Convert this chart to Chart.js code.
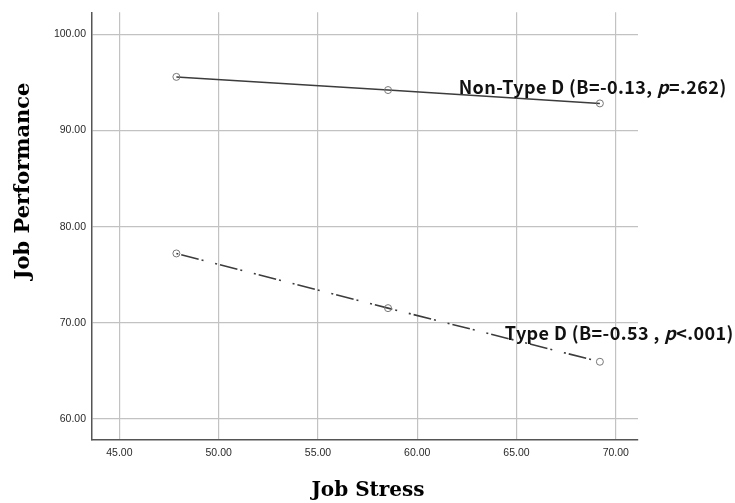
<!DOCTYPE html>
<html>
<head>
<meta charset="utf-8">
<script src="https://cdn.jsdelivr.net/npm/chart.js@4.4.1/dist/chart.umd.min.js"></script>
<style>
html, body { margin: 0; padding: 0; background: #fff; }
</style>
</head>
<body>
<canvas id="chart" width="735" height="503"></canvas>
<script>
// values (predicted job performance at 3 stress levels)
var stress = [47.87, 58.53, 69.2];
var nonTypeD = [95.58, 94.21, 92.82];
var typeD = [77.21, 71.52, 65.94];
var xTicks = [45, 50, 55, 60, 65, 70];
var yTicks = [60, 70, 80, 90, 100];
var seriesNames = ['Non-Type D', 'Type D'];
var notes = [
    ['Non-Type D (B=-0.13, ', 'p', '=.262)'],
    ['Type D (B=-0.53 , ', 'p', '<.001)']
];
var xTitle = 'Job Stress';
var yTitle = 'Job Performance';

function toPoints(xs, ys) {
    var pts = [];
    for (var i = 0; i < xs.length; i++) {
        pts.push({ x: xs[i], y: ys[i] });
    }
    return pts;
}

// where the notes sit, in data units
var notePos = [[62.09, 94.55], [64.41, 68.9]];

var notesPlugin = {
    id: 'notes',
    afterDraw: function (chart) {
        var ctx = chart.ctx;
        var xs = chart.scales.x, ys = chart.scales.y;
        ctx.save();
        ctx.fillStyle = '#111';
        ctx.textBaseline = 'middle';
        ctx.textAlign = 'left';
        ctx.letterSpacing = '0.4px';
        for (var i = 0; i < notes.length; i++) {
            var px = xs.getPixelForValue(notePos[i][0]);
            var py = ys.getPixelForValue(notePos[i][1]);
            for (var j = 0; j < notes[i].length; j++) {
                ctx.font = (j == 1 ? 'italic ' : '') + 'bold 18px "Noto Sans CJK KR"';
                ctx.fillText(notes[i][j], px, py);
                px += ctx.measureText(notes[i][j]).width;
            }
        }
        ctx.letterSpacing = '0px';

        // axis titles
        ctx.font = 'bold 20px "DejaVu Serif"';
        ctx.fillStyle = '#000';
        ctx.textAlign = 'center';
        ctx.fillText(xTitle, 368, 491);
        ctx.translate(24, 181);
        ctx.rotate(-Math.PI / 2);
        ctx.font = 'bold 21px "DejaVu Serif"';
        ctx.fillText(yTitle, 0, 0);
        ctx.restore();
    }
};

var tickFont = { family: '"Liberation Sans", Arial', size: 10.5 };

new Chart(document.getElementById('chart'), {
    type: 'scatter',
    data: {
        datasets: [{
            label: seriesNames[0],
            data: toPoints(stress, nonTypeD),
            showLine: true,
            borderColor: '#3c3c3c',
            borderWidth: 1.5,
            pointRadius: 3.5,
            pointBorderWidth: 1,
            pointBorderColor: '#777',
            pointBackgroundColor: 'rgba(255,255,255,0)'
        }, {
            label: seriesNames[1],
            data: toPoints(stress, typeD),
            showLine: true,
            borderColor: '#3c3c3c',
            borderWidth: 1.6,
            borderDash: [2, 3, 18, 3, 2, 12],
            pointRadius: 3.5,
            pointBorderWidth: 1,
            pointBorderColor: '#777',
            pointBackgroundColor: 'rgba(255,255,255,0)'
        }]
    },
    options: {
        responsive: false,
        animation: false,
        devicePixelRatio: 1,
        layout: { padding: { top: 10, right: 97, left: 0, bottom: 0 } },
        plugins: {
            legend: { display: false },
            tooltip: { enabled: false }
        },
        scales: {
            x: {
                type: 'linear',
                min: 43.62,
                max: 71.12,
                afterBuildTicks: function (s) {
                    s.ticks = xTicks.map(function (v) { return { value: v }; });
                },
                afterFit: function (s) { s.height = 63; },
                grid: { color: '#c2c2c2', lineWidth: 1.2, drawTicks: false },
                border: { color: '#555', width: 1.5 },
                ticks: {
                    font: tickFont,
                    color: '#2a2a2a',
                    padding: 7,
                    maxRotation: 0,
                    callback: function (v) { return Number(v).toFixed(2); }
                }
            },
            y: {
                type: 'linear',
                min: 57.8,
                max: 102.3,
                afterBuildTicks: function (s) {
                    s.ticks = yTicks.map(function (v) { return { value: v }; });
                },
                afterFit: function (s) { s.width = 92; },
                grid: { color: '#c2c2c2', lineWidth: 1.2, drawTicks: false },
                border: { color: '#555', width: 1.5 },
                ticks: {
                    font: tickFont,
                    color: '#2a2a2a',
                    padding: 6,
                    callback: function (v) { return Number(v).toFixed(2); }
                }
            }
        }
    },
    plugins: [notesPlugin]
});
</script>
</body>
</html>
